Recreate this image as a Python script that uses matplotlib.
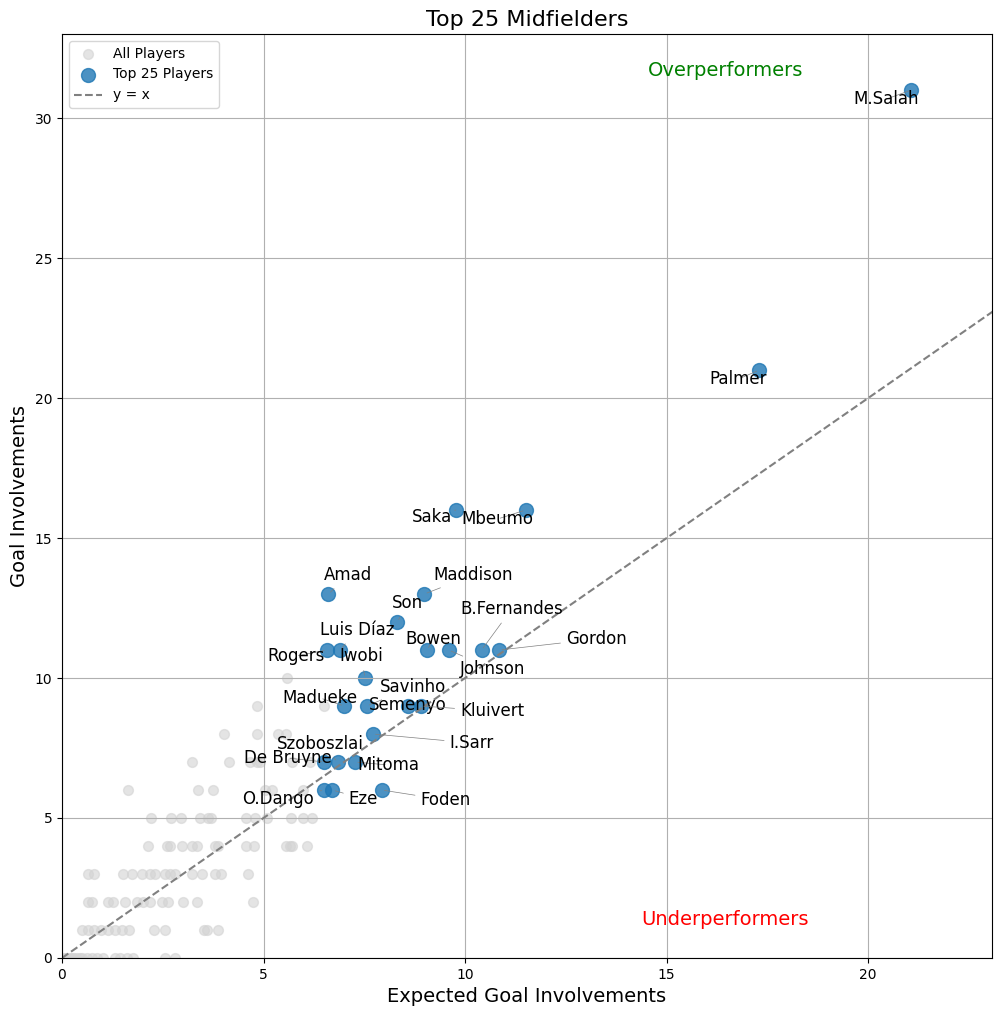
import numpy as np
import matplotlib
matplotlib.use("Agg")
import matplotlib.pyplot as plt

# all players (expected goal involvements, goal involvements)
all_xgi = [0.05, 0.1, 0.12, 0.2, 0.25, 0.3, 0.37, 0.45, 0.5, 0.62, 0.74, 0.87, 1.02, 1.32, 1.44, 1.61, 1.76, 2.56, 2.80,
           0.49, 0.65, 0.80, 0.98, 1.15, 1.31, 1.48, 1.66, 2.29, 2.56, 3.53, 3.61, 3.88,
           0.65, 0.75, 1.13, 1.27, 1.56, 1.85, 2.02, 2.18, 2.47, 2.64, 3.01, 3.34, 4.74,
           0.65, 0.80, 1.52, 1.73, 1.99, 2.18, 2.31, 2.56, 2.68, 2.80, 3.22, 3.47, 3.80, 3.95, 4.62,
           2.14, 2.60, 2.68, 2.97, 3.22, 3.34, 3.80, 3.88, 4.57, 4.77, 5.56, 5.66, 5.70, 6.09,
           2.20, 2.70, 2.95, 3.42, 3.63, 3.69, 4.57, 4.79, 5.08, 5.68, 5.99, 6.20,
           1.63, 3.38, 3.75, 5.04, 5.20, 5.99,
           3.22, 4.15, 4.66, 4.83, 4.91, 5.70, 6.15,
           4.03, 4.83, 5.37, 5.56,
           4.83, 6.50,
           5.57]
all_gi = [0] * 19 + [1] * 13 + [2] * 13 + [3] * 15 + [4] * 14 + [5] * 12 + [6] * 6 + [7] * 7 + [8] * 4 + [9] * 2 + [10]

# top 25 midfielders
names = ['M.Salah', 'Palmer', 'Saka', 'Mbeumo', 'Amad', 'Maddison', 'Son', 'Luis Díaz', 'Rogers',
         'Bowen', 'Johnson', 'B.Fernandes', 'Gordon', 'Iwobi', 'Madueke', 'Savinho', 'Semenyo',
         'Kluivert', 'I.Sarr', 'De Bruyne', 'Szoboszlai', 'Mitoma', 'O.Dango', 'Eze', 'Foden']
top_xgi = [21.07, 17.30, 9.77, 11.50, 6.61, 8.99, 8.32, 6.90, 6.57,
           9.06, 9.59, 10.41, 10.85, 7.52, 7.00, 7.56, 8.59,
           8.91, 7.71, 6.51, 6.84, 7.27, 6.51, 6.71, 7.93]
top_gi = [31, 21, 16, 16, 13, 13, 12, 11, 11,
          11, 11, 11, 11, 10, 9, 9, 9,
          9, 8, 7, 7, 7, 6, 6, 6]

# label offsets in pixels (dx, dy) from each point
label_offsets = [(-25, -9), (-21, -9), (-24, -7), (-28, -9), (20, 19), (49, 19), (10, 19), (17, 20), (-31, -6),
                 (6, 11), (44, -19), (30, 41), (97, 11), (-4, 22), (-24, 8), (46, 19), (-1, 1),
                 (71, -5), (99, -9), (-37, 4), (-17, 18), (33, -3), (-46, -9), (31, -9), (64, -10)]

fig = plt.figure(figsize=(10.01, 10.16), dpi=100)
ax = fig.add_subplot(111)
fig.subplots_adjust(left=0.0619, right=0.991, top=0.9665, bottom=0.0571)

ax.scatter(all_xgi, all_gi, s=50, color='lightgray', alpha=0.6, label='All Players')
ax.scatter(top_xgi, top_gi, s=100, color='#1f77b4', alpha=0.8, label='Top 25 Players')

xmax = max(top_xgi) + 2
ymax = max(top_gi) + 2
lim = max(xmax, ymax)
ax.plot([0, lim], [0, lim], '--', color='gray', label='y = x')

for name, x, y, off in zip(names, top_xgi, top_gi, label_offsets):
    ax.annotate(name, (x, y), xytext=off, textcoords='offset pixels', fontsize=12,
                ha='center', va='center',
                arrowprops=dict(arrowstyle='-', color='gray', lw=0.5))

ax.text(0.713, 0.96, 'Overperformers', transform=ax.transAxes, color='green', fontsize=14,
        ha='center', va='center')
ax.text(0.713, 0.042, 'Underperformers', transform=ax.transAxes, color='red', fontsize=14,
        ha='center', va='center')

ax.set_xlim(0, xmax)
ax.set_ylim(0, ymax)
ax.set_title('Top 25 Midfielders', fontsize=16)
ax.set_xlabel('Expected Goal Involvements', fontsize=14)
ax.set_ylabel('Goal Involvements', fontsize=14)
ax.legend(loc='upper left')
ax.grid(True)

fig.savefig('out.png', dpi=100)
